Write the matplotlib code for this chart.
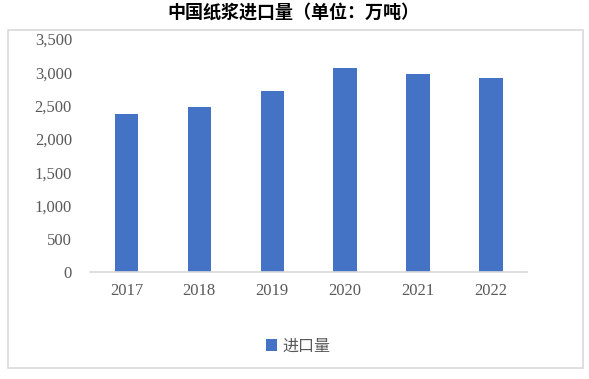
import matplotlib

matplotlib.use("Agg")
import matplotlib.pyplot as plt
from matplotlib.patches import Rectangle

plt.rcParams["font.family"] = ["Liberation Serif", "Noto Sans CJK SC"]

years = ["2017", "2018", "2019", "2020", "2021", "2022"]
imports = [2372, 2479, 2720, 3063, 2969, 2916]
yticks = [0, 500, 1000, 1500, 2000, 2500, 3000, 3500]
title = "中国纸浆进口量（单位：万吨）"
series_name = "进口量"

W, H = 589, 379
fig = plt.figure(figsize=(W / 100, H / 100), dpi=100)

# outer chart frame
fig.patches.append(Rectangle((8.3 / W, 1 - 368 / H), (582.7 - 8.3) / W, (368 - 30.3) / H,
                             transform=fig.transFigure, fill=False,
                             edgecolor="#d9d9d9", linewidth=1.2))

ax = fig.add_axes([90 / W, 1 - 272 / H, (527.3 - 90) / W, (272 - 39) / H])
x = range(len(years))
bars = ax.bar(x, imports, width=0.32, color="#4472C4", label=series_name)
ax.set_xlim(-0.5, len(years) - 0.5)
ax.set_ylim(0, 3500)
ax.set_yticks(yticks, [f"{v:,}" for v in yticks])
ax.set_xticks(list(x), years)
ax.tick_params(axis="y", length=0, pad=13, labelsize=12, labelcolor="#595959")
ax.tick_params(axis="x", length=0, pad=8, labelsize=12, labelcolor="#595959")
for side in ["top", "right", "left"]:
    ax.spines[side].set_visible(False)
ax.spines["bottom"].set_color("#d9d9d9")
ax.spines["bottom"].set_linewidth(1.2)

fig.text(293.5 / W, 1 - 12.5 / H, title, ha="center", va="center",
         fontsize=13, fontweight="bold", family=["Noto Sans CJK SC"])

fig.legend(handles=[bars], labels=[series_name], loc="center",
           bbox_to_anchor=(298 / W, 1 - 346 / H), frameon=False,
           prop={"family": "Noto Sans CJK SC", "size": 11.5},
           labelcolor="#595959", handlelength=0.7, handleheight=0.7,
           handletextpad=0.3)

fig.savefig("out.png", dpi=100)
